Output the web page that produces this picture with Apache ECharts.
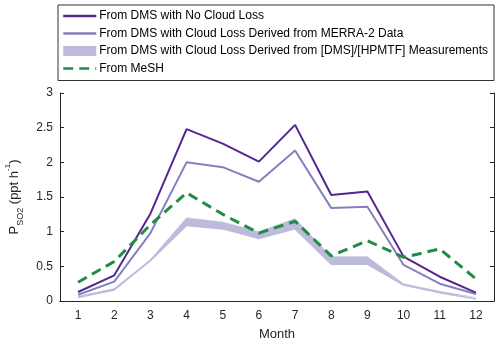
<!DOCTYPE html>
<html>
<head>
<meta charset="utf-8">
<script src="https://cdn.jsdelivr.net/npm/echarts@6/dist/echarts.min.js"></script>
<style>
  html, body { margin: 0; padding: 0; background: #fff; }
  #chart { width: 500px; height: 347px; }
</style>
</head>
<body>
<div id="chart"></div>
<script>
// months on the x axis
const months = ['1', '2', '3', '4', '5', '6', '7', '8', '9', '10', '11', '12'];
// P_SO2 from DMS, no cloud loss
const noCloudLoss = [0.13, 0.37, 1.26, 2.48, 2.27, 2.01, 2.54, 1.53, 1.58, 0.64, 0.35, 0.12];
// with cloud loss from MERRA-2
const merra2 = [0.09, 0.28, 0.98, 2.0, 1.93, 1.72, 2.17, 1.34, 1.36, 0.52, 0.25, 0.1];
// band from [DMS]/[HPMTF] measurements
const bandLow = [0.05, 0.16, 0.58, 1.09, 1.04, 0.9, 1.04, 0.53, 0.53, 0.23, 0.12, 0.03];
const bandHigh = [0.07, 0.18, 0.6, 1.2, 1.14, 1.0, 1.19, 0.64, 0.64, 0.25, 0.14, 0.05];
// MeSH
const mesh = [0.27, 0.57, 1.1, 1.56, 1.25, 0.98, 1.15, 0.65, 0.87, 0.63, 0.75, 0.32];

const names = [
  'From DMS with No Cloud Loss',
  'From DMS with Cloud Loss Derived from MERRA-2 Data',
  'From DMS with Cloud Loss Derived from [DMS]/[HPMTF] Measurements',
  'From MeSH'
];

const axisColor = '#262626';
const bandColor = '#bdbbdc';

const chart = echarts.init(document.getElementById('chart'));

const option = {
  animation: false,
  textStyle: { fontFamily: 'Liberation Sans, Arial, sans-serif' },
  legend: {
    orient: 'vertical',
    left: 58,
    top: 5,
    padding: [5, 6, 6, 4],
    borderColor: '#333',
    borderWidth: 1,
    itemWidth: 33,
    itemHeight: 10,
    itemGap: 5.5,
    itemStyle: { opacity: 0 },
    lineStyle: { width: 2.5 },
    textStyle: { fontSize: 12, color: '#000', padding: [0, 0, 0, -2] },
    data: [
      { name: names[0] },
      { name: names[1] },
      { name: names[2], icon: 'rect', itemStyle: { opacity: 1 } },
      { name: names[3] }
    ]
  },
  grid: { left: 60, right: 6, top: 93, bottom: 46, outerBoundsMode: 'none' },
  xAxis: [
    {
      type: 'category',
      data: months,
      boundaryGap: true,
      name: 'Month',
      nameLocation: 'middle',
      nameGap: 27,
      nameTextStyle: { fontSize: 13, color: axisColor },
      axisLine: { lineStyle: { color: axisColor } },
      axisTick: { inside: true, alignWithLabel: true, length: 4, lineStyle: { color: axisColor } },
      axisLabel: { fontSize: 12, color: axisColor, margin: 9 },
      splitLine: { show: false }
    },
    {
      type: 'category',
      data: months,
      position: 'top',
      boundaryGap: true,
      axisLine: { lineStyle: { color: axisColor } },
      axisTick: { inside: true, alignWithLabel: true, length: 4, lineStyle: { color: axisColor } },
      axisLabel: { show: false },
      splitLine: { show: false }
    }
  ],
  yAxis: [
    {
      type: 'value',
      min: 0,
      max: 3,
      interval: 0.5,
      name: '{p|P}{s|SO2}{p| (ppt h}{u|-1}{p|)}',
      nameLocation: 'middle',
      nameRotate: 90,
      nameGap: 31,
      nameTextStyle: {
        color: axisColor,
        rich: {
          p: { fontSize: 13, color: axisColor, lineHeight: 22 },
          s: { fontSize: 9, color: axisColor, verticalAlign: 'bottom', lineHeight: 9 },
          u: { fontSize: 8, color: axisColor, verticalAlign: 'top', lineHeight: 8 }
        }
      },
      axisLine: { show: true, lineStyle: { color: axisColor } },
      axisTick: { show: true, inside: true, length: 4, lineStyle: { color: axisColor } },
      axisLabel: { fontSize: 12, color: axisColor, margin: 7 },
      splitLine: { show: false }
    },
    {
      type: 'value',
      min: 0,
      max: 3,
      interval: 0.5,
      position: 'right',
      axisLine: { show: true, lineStyle: { color: axisColor } },
      axisTick: { show: true, inside: true, length: 4, lineStyle: { color: axisColor } },
      axisLabel: { show: false },
      splitLine: { show: false }
    }
  ],
  series: [
    {
      name: 'bandBase',
      type: 'line',
      stack: 'band',
      data: bandLow,
      symbol: 'none',
      color: bandColor,
      lineStyle: { width: 1.5, color: bandColor },
      z: 1
    },
    {
      name: names[2],
      type: 'line',
      stack: 'band',
      data: bandHigh.map((v, i) => +(v - bandLow[i]).toFixed(3)),
      symbol: 'none',
      color: bandColor,
      itemStyle: { color: bandColor },
      lineStyle: { width: 0.5, color: bandColor },
      areaStyle: { color: bandColor, opacity: 1 },
      z: 1
    },
    {
      name: names[1],
      type: 'line',
      data: merra2,
      symbol: 'none',
      color: '#8480c0',
      lineStyle: { width: 2, color: '#8480c0' },
      z: 2
    },
    {
      name: names[0],
      type: 'line',
      data: noCloudLoss,
      symbol: 'none',
      color: '#54278f',
      lineStyle: { width: 2, color: '#54278f' },
      z: 3
    },
    {
      name: names[3],
      type: 'line',
      data: mesh,
      symbol: 'none',
      color: '#238b45',
      lineStyle: { width: 3, type: [10, 6], color: '#238b45' },
      z: 4
    }
  ]
};

chart.setOption(option);
</script>
</body>
</html>
